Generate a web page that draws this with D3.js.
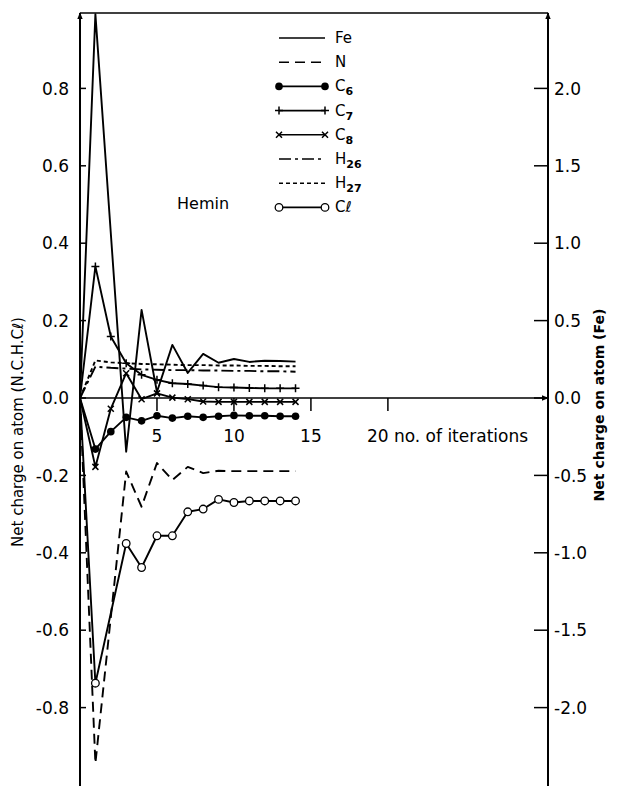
<!DOCTYPE html>
<html>
<head>
<meta charset="utf-8">
<script src="https://cdn.jsdelivr.net/npm/d3@7"></script>
<style>
  body { margin: 0; background: #fff; }
  text { font-family: "DejaVu Sans", Arial, sans-serif; fill: #000; }
</style>
</head>
<body>
<script>
//------------------------------------------- Data -------------------------------------------------------------------//
var iterations = [0, 1, 2, 3, 4, 5, 6, 7, 8, 9, 10, 11, 12, 13, 14];

// Fe is read against the right hand axis, everything else against the left one
var fe = [0, 2.48, null, -0.347, 0.569, 0.039, 0.343, 0.162, 0.285, 0.228, 0.252, 0.233, 0.241, 0.239, 0.235];
var nitrogen = [0, -0.944, null, -0.19, -0.281, -0.168, -0.212, -0.178, -0.194, -0.188, -0.189, -0.189, -0.189, -0.189, -0.189];
var c6 = [0, -0.132, -0.087, -0.05, -0.059, -0.046, -0.052, -0.047, -0.05, -0.047, -0.045, -0.046, -0.046, -0.047, -0.047];
var c7 = [0, 0.34, 0.159, 0.09, 0.06, 0.047, 0.038, 0.036, 0.032, 0.028, 0.027, 0.026, 0.025, 0.025, 0.025];
var c8 = [0, -0.178, -0.028, 0.064, -0.003, 0.012, 0.001, -0.003, -0.009, -0.01, -0.01, -0.01, -0.01, -0.01, -0.01];
var h26 = [0, 0.081, 0.078, 0.076, 0.074, 0.073, 0.072, 0.072, 0.071, 0.071, 0.07, 0.07, 0.069, 0.069, 0.068];
var h27 = [0, 0.097, 0.092, 0.09, 0.088, 0.087, 0.086, 0.085, 0.085, 0.084, 0.084, 0.083, 0.083, 0.082, 0.082];
var cl = [0, -0.737, null, -0.376, -0.438, -0.356, -0.356, -0.294, -0.287, -0.262, -0.27, -0.266, -0.266, -0.266, -0.266];

var leftTicks = [0.8, 0.6, 0.4, 0.2, 0, -0.2, -0.4, -0.6, -0.8];
var rightTicks = [2, 1.5, 1, 0.5, 0, -0.5, -1, -1.5, -2];
var xTicks = [5, 10, 15, 20];

var series = [
  { name: "Fe", sub: "", values: fe, axis: "right", dash: null, marker: null },
  { name: "N", sub: "", values: nitrogen, axis: "left", dash: "10,6", marker: null },
  { name: "C", sub: "6", values: c6, axis: "left", dash: null, marker: "dot" },
  { name: "C", sub: "7", values: c7, axis: "left", dash: null, marker: "plus" },
  { name: "C", sub: "8", values: c8, axis: "left", dash: null, marker: "cross" },
  { name: "H", sub: "26", values: h26, axis: "left", dash: "12,4,3,4", marker: null },
  { name: "H", sub: "27", values: h27, axis: "left", dash: "4,3", marker: null },
  { name: "C\u2113", sub: "", values: cl, axis: "left", dash: null, marker: "ring" },
];

//------------------------------------------- Layout ---------------------------------------------//
var width = 617,
  height = 786;
var x0 = 80,
  x1 = 548,
  yTop = 13;

var x = d3.scaleLinear().domain([0, 30.4]).range([x0, x1]);
var yL = d3.scaleLinear().domain([-1, 1]).range([785, 11]);
var yR = d3.scaleLinear().domain([-2.5, 2.5]).range([785, 11]);

var svg = d3.select("body").append("svg").attr("width", width).attr("height", height);

// arrow head
svg.append("defs")
  .append("marker")
  .attr("id", "arrow")
  .attr("viewBox", "0 0 10 10")
  .attr("refX", 9)
  .attr("refY", 5)
  .attr("markerWidth", 7)
  .attr("markerHeight", 7)
  .attr("markerUnits", "userSpaceOnUse")
  .attr("orient", "auto")
  .append("path")
  .attr("d", "M0,1L10,5L0,9Z")
  .attr("fill", "#000");

//------------------------------------------- Axes ---------------------------------------------//
var frame = svg.append("g").attr("stroke", "#000").attr("fill", "none");

frame.append("line").attr("x1", x0).attr("x2", x1).attr("y1", yTop).attr("y2", yTop).attr("stroke-width", 1.5);
frame.append("line").attr("x1", x0).attr("x2", x0).attr("y1", height).attr("y2", yTop)
  .attr("stroke-width", 2).attr("marker-end", "url(#arrow)");
frame.append("line").attr("x1", x1).attr("x2", x1).attr("y1", height).attr("y2", yTop)
  .attr("stroke-width", 2).attr("marker-end", "url(#arrow)");
frame.append("line").attr("x1", x0).attr("x2", x1).attr("y1", yL(0)).attr("y2", yL(0))
  .attr("stroke-width", 1.5).attr("marker-end", "url(#arrow)");

var fmt = function (d) { return d3.format(".1f")(d).replace("\u2212", "-"); };

// left ticks point inward
var leftAxis = svg.append("g").attr("transform", "translate(" + x0 + ",0)");
leftAxis.selectAll("line").data(leftTicks).enter().append("line")
  .attr("x1", 0).attr("x2", 6)
  .attr("y1", function (d) { return yL(d); })
  .attr("y2", function (d) { return yL(d); })
  .attr("stroke", "#000").attr("stroke-width", 1.5);
leftAxis.selectAll("text").data(leftTicks).enter().append("text")
  .attr("x", -11)
  .attr("y", function (d) { return yL(d); })
  .attr("dy", "0.36em")
  .attr("text-anchor", "end")
  .style("font-size", "17px")
  .text(fmt);

var rightAxis = svg.append("g").attr("transform", "translate(" + x1 + ",0)");
rightAxis.selectAll("line").data(rightTicks).enter().append("line")
  .attr("x1", -14).attr("x2", 0)
  .attr("y1", function (d) { return yR(d); })
  .attr("y2", function (d) { return yR(d); })
  .attr("stroke", "#000").attr("stroke-width", 1.5);
rightAxis.selectAll("text").data(rightTicks).enter().append("text")
  .attr("x", 6)
  .attr("y", function (d) { return yR(d); })
  .attr("dy", "0.36em")
  .style("font-size", "17px")
  .text(fmt);

var bottomAxis = svg.append("g");
bottomAxis.selectAll("line").data(xTicks).enter().append("line")
  .attr("x1", function (d) { return x(d); })
  .attr("x2", function (d) { return x(d); })
  .attr("y1", yL(0)).attr("y2", yL(0) + 13)
  .attr("stroke", "#000").attr("stroke-width", 1.5);
bottomAxis.selectAll("text").data(xTicks).enter().append("text")
  .attr("x", function (d) { return d == 20 ? x(d) - 21 : x(d); })
  .attr("y", yL(0) + 44)
  .attr("text-anchor", function (d) { return d == 20 ? "start" : "middle"; })
  .style("font-size", "17px")
  .text(function (d) { return d == 20 ? "20 no. of iterations" : d; });

// axis titles
svg.append("text")
  .attr("transform", "translate(23,432) rotate(-90)")
  .attr("text-anchor", "middle")
  .style("font-size", "15px")
  .text("Net charge on atom (N.C.H.C\u2113)");
svg.append("text")
  .attr("transform", "translate(604,405) rotate(-90)")
  .attr("text-anchor", "middle")
  .style("font-size", "14px")
  .style("font-weight", "bold")
  .text("Net charge on atom (Fe)");

svg.append("text").attr("x", 177).attr("y", 209).style("font-size", "16px").text("Hemin");

//------------------------------------------- Lines ---------------------------------------------//
function points(s) {
  var sc = s.axis == "right" ? yR : yL;
  return iterations
    .map(function (it, i) { return { it: it, v: s.values[i] }; })
    .filter(function (p) { return p.v !== null; })
    .map(function (p) { return { it: p.it, px: x(p.it), py: sc(p.v) }; });
}

var line = d3.line()
  .x(function (d) { return d.px; })
  .y(function (d) { return d.py; });

function drawMarkers(g, pts, type) {
  var m = g.selectAll(null).data(pts).enter().append("g")
    .attr("transform", function (d) { return "translate(" + d.px + "," + d.py + ")"; });
  if (type == "dot") {
    m.append("circle").attr("r", 3.8).attr("fill", "#000");
  } else if (type == "ring") {
    m.append("circle").attr("r", 3.8).attr("fill", "#fff").attr("stroke", "#000").attr("stroke-width", 1.3);
  } else if (type == "plus") {
    m.append("path").attr("d", "M-4,0H4M0,-4V4").attr("stroke", "#000").attr("stroke-width", 1.5);
  } else if (type == "cross") {
    m.append("path").attr("d", "M-3,-3L3,3M-3,3L3,-3").attr("stroke", "#000").attr("stroke-width", 1.5);
  }
}

var plot = svg.append("g");
series.forEach(function (s) {
  var pts = points(s);
  plot.append("path")
    .attr("d", line(pts))
    .attr("fill", "none")
    .attr("stroke", "#000")
    .attr("stroke-width", 1.9)
    .attr("stroke-linejoin", "round")
    .attr("stroke-dasharray", s.dash);
  if (s.marker) {
    drawMarkers(plot, pts.filter(function (p) { return p.it > 0; }), s.marker);
  }
});

//------------------------------------------- Legend ---------------------------------------------//
var legend = svg.append("g").attr("transform", "translate(279,38)");
var row = legend.selectAll("g").data(series).enter().append("g")
  .attr("transform", function (d, i) { return "translate(0," + i * 24.2 + ")"; });

row.each(function (s) {
  var g = d3.select(this);
  g.append("line")
    .attr("x1", 0).attr("x2", 46).attr("y1", 0).attr("y2", 0)
    .attr("stroke", "#000").attr("stroke-width", 1.6)
    .attr("stroke-dasharray", s.dash);
  if (s.marker) {
    drawMarkers(g, [{ px: 0, py: 0 }, { px: 46, py: 0 }], s.marker);
  }
  var t = g.append("text").attr("x", 56).attr("y", 5).style("font-size", "15px");
  t.append("tspan").text(s.name);
  if (s.sub) {
    t.append("tspan").attr("dy", 4).style("font-size", "11px").style("font-weight", "bold").text(s.sub);
  }
});
</script>
</body>
</html>
